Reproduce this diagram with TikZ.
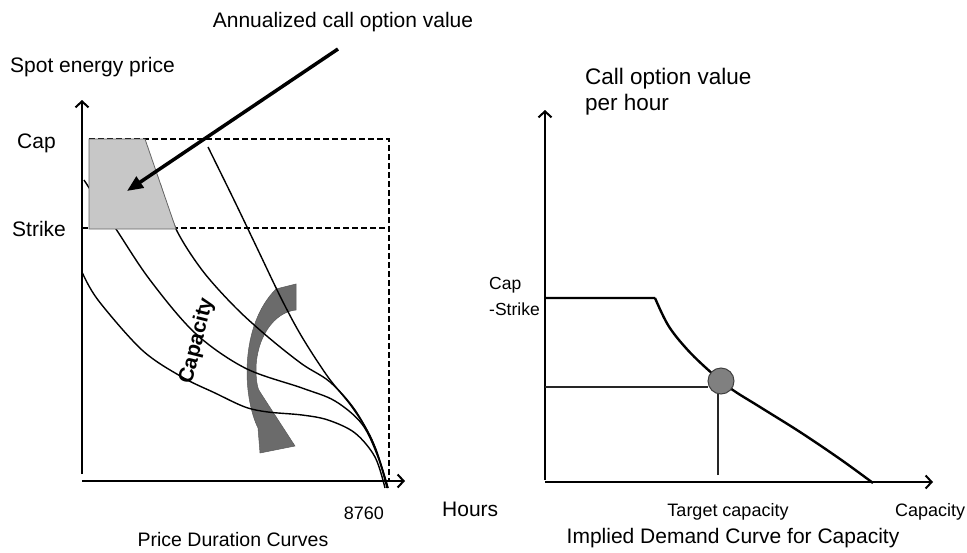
\documentclass[tikz,border=0pt]{standalone}
\usepackage{fontspec}
\setmainfont{Liberation Sans}
\usetikzlibrary{arrows.meta}
\begin{document}
\begin{tikzpicture}[x=1pt,y=-1pt,
  lbl/.style={inner sep=0pt,font=\fontsize{21}{26}\selectfont},
  smalllbl/.style={inner sep=0pt,font=\fontsize{18}{22}\selectfont},
  axis/.style={line width=2.5pt,-{Straight Barb[length=6pt,width=13pt,line width=2pt]}},
  pdc/.style={line width=1.4pt},
  guide/.style={line width=2pt,dash pattern=on 6pt off 3pt},
  thinline/.style={line width=1.2pt,black!85},
  optionarea/.style={fill=black!22,draw=black!60,line width=0.8pt},
  shiftarrow/.style={fill=black!58,draw=black!65,line width=0.5pt},
  pointer/.style={line width=3.5pt,-{Triangle[length=16pt,width=13pt]}},
  dot/.style={circle,minimum size=26pt,inner sep=0pt,fill=black!50,draw=black!75,line width=1pt}]
\useasboundingbox (0,0) rectangle (967,552);

% ---------- left panel: price duration curves ----------
\coordinate (yo) at (82,481);
\coordinate (ytop) at (82,100);
\coordinate (xend) at (405,481);
\coordinate (capL) at (89,139);
\coordinate (capR) at (389,139);
\coordinate (strL) at (82,228);
\coordinate (strR) at (389,228);
\coordinate (hend) at (389,481);

% capacity shift arrow (under the curves)
\filldraw[shiftarrow] (296,284) -- (296,310)
  .. controls (274,312) and (256,338) .. (256,370)
  .. controls (256,382) and (258,390) .. (260,392)
  -- (295,446) -- (260,453) -- (258,428)
  .. controls (242,395) and (240,325) .. (276,289) -- cycle;

% the four duration curves
\draw[pdc] plot[smooth,tension=0.55] coordinates {(208,147) (235,202) (258,250) (282,300) (302,337) (328,377) (352,407) (372,440) (388,488)};
\draw[pdc] plot[smooth,tension=0.55] coordinates {(160,184) (176,229) (202,270) (235,307) (268,337) (302,364) (330,382) (355,410) (375,447) (388,488)};
\draw[pdc] plot[smooth,tension=0.55] coordinates {(84,180) (116,229) (150,280) (195,333) (245,368) (302,388) (335,401) (362,424) (378,457) (387,488)};
\draw[pdc] plot[smooth,tension=0.55] coordinates {(82,272) (98,300) (142,350) (182,377) (215,393) (245,407) (268,412) (302,415) (328,420) (355,433) (375,457) (385,488)};

% cap and strike guides
\draw[guide] (capL) -- (capR) -- (hend);
\draw[guide] (strL) -- (strR);

% option value area between strike and cap
\filldraw[optionarea] (89,139) -- (145,139) -- (176,229) -- (89,229) -- cycle;

% axes
\draw[axis] (82,474) -- (ytop);
\draw[axis] (yo) -- (xend);

% pointer to the area
\coordinate (ptrS) at (338,49);
\coordinate (ptrE) at (127,191);
\draw[pointer] (ptrS) -- (ptrE);

\node[lbl] (ann) at (343,22) {Annualized call option value};
\node[lbl,anchor=west] (spot) at (10,67) {Spot energy price};
\node[lbl,anchor=west] (capl) at (17,143) {Cap};
\node[lbl,anchor=west] (strl) at (12,229) {Strike};
\node[smalllbl,anchor=east] (yr) at (384,513) {8760};
\node[lbl,anchor=west] (hrs) at (442,509) {Hours};
\node[inner sep=0pt,font=\fontsize{19.5}{24}\selectfont] (pdcl) at (233,540) {Price Duration Curves};
\node[inner sep=0pt,rotate=76,font=\fontsize{21}{26}\selectfont\bfseries] (capy) at (197,341) {Capacity};

% ---------- right panel: implied demand curve ----------
\coordinate (ro) at (545,482);
\coordinate (rtop) at (545,110);
\coordinate (rend) at (933,482);
\coordinate (kink) at (655,298);
\draw[axis] (545,480) -- (rtop);
\draw[axis] (ro) -- (rend);
\draw[line width=2.4pt,line join=round] (545,298) -- (kink)
  plot[smooth,tension=0.6] coordinates {(655,298) (668,325) (685,347) (705,367) (730,388) (760,407) (800,432) (840,459) (873,483)};

\node[dot] (target) at (721,381) {};
\coordinate (hl) at (545,387);
\coordinate (vb) at (718,475);
\draw[thinline] (hl) -- (hl -| target.west);
\draw[thinline] (vb) -- (718,394);

\node[inner sep=0pt,anchor=north west,align=left,font=\fontsize{22.5}{26}\selectfont] (cov) at (585,68) {Call option value\\per hour};
\node[inner sep=0pt,anchor=west,align=left,font=\fontsize{17.5}{26}\selectfont] (cms) at (489,296) {Cap\\-Strike};
\node[smalllbl] (tcap) at (728,512) {Target capacity};
\node[smalllbl,anchor=west] (capx) at (895,512) {Capacity};
\node[lbl] (idc) at (733,538) {Implied Demand Curve for Capacity};
\end{tikzpicture}
\end{document}
